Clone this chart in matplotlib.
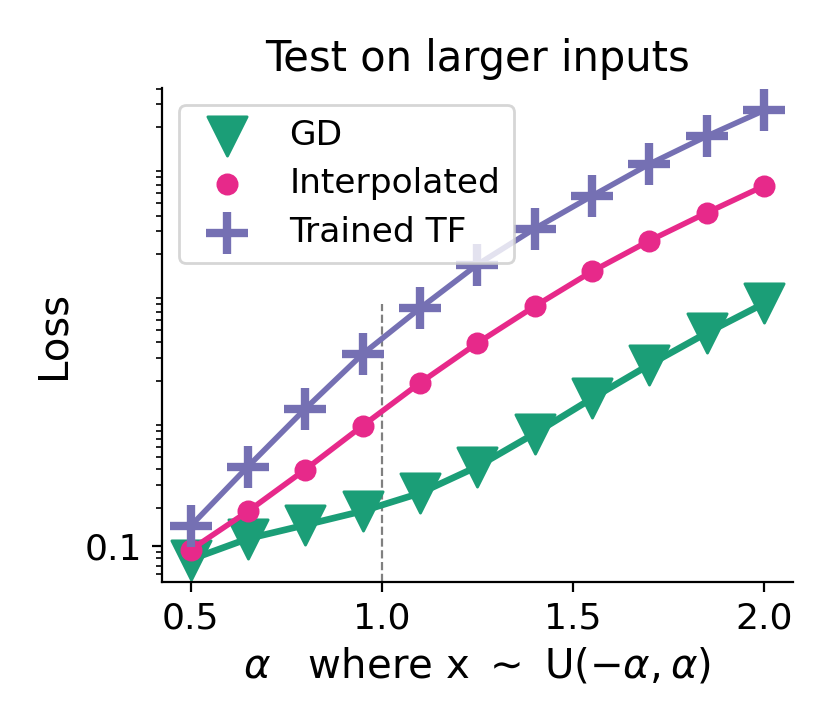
import matplotlib
matplotlib.use("Agg")
import matplotlib.pyplot as plt
from matplotlib.ticker import NullFormatter

# data
alphas = [0.5, 0.65, 0.8, 0.95, 1.1, 1.25, 1.4, 1.55, 1.7, 1.85, 2.0]
gd_loss = [0.078, 0.114, 0.146, 0.188, 0.260, 0.421, 0.767, 1.45, 2.67, 4.75, 8.12]
interp_loss = [0.093, 0.187, 0.399, 0.883, 1.92, 3.95, 7.7, 14.5, 25.3, 42.0, 68.4]
tf_loss = [0.143, 0.421, 1.2, 3.24, 7.43, 16.4, 31.5, 57.0, 101.6, 168.5, 269.0]

train_alpha = 1.0

c_gd = '#1b9e77'
c_interp = '#e7298a'
c_tf = '#7570b3'

fig = plt.figure(figsize=(4.15, 3.635), dpi=200)
ax = fig.add_axes([0.195, 0.1994, 0.76, 0.6796])

# lines + markers
ax.plot(alphas, gd_loss, color=c_gd, lw=2.4, zorder=2)
ax.scatter(alphas, gd_loss, marker='v', s=200, color=c_gd, label='GD', zorder=2)
ax.plot(alphas, interp_loss, color=c_interp, lw=2, zorder=3)
ax.scatter(alphas, interp_loss, marker='o', s=48, color=c_interp, label='Interpolated', zorder=3)
ax.plot(alphas, tf_loss, color=c_tf, lw=2, zorder=4)
ax.scatter(alphas, tf_loss, marker='+', s=225, linewidths=3, color=c_tf, label='Trained TF', zorder=4)

ax.axvline(train_alpha, ymax=0.563, color='grey', ls='--', lw=0.8, zorder=1)

ax.set_yscale('log')
ax.set_yticks([0.1])
ax.set_yticklabels(['0.1'])
ax.yaxis.set_minor_formatter(NullFormatter())
ax.set_xticks([0.5, 1.0, 1.5, 2.0])
ax.tick_params(labelsize=13)

ax.spines['top'].set_visible(False)
ax.spines['right'].set_visible(False)

ax.set_title('Test on larger inputs', fontsize=15)
ax.set_ylabel('Loss', fontsize=14.5)
ax.set_xlabel(r'$\alpha$   where x $\sim$ U$(-\alpha, \alpha)$', fontsize=14.5)
ax.legend(loc='upper left', fontsize=12.4, labelspacing=0.45)

fig.savefig('out.png', dpi=200)
